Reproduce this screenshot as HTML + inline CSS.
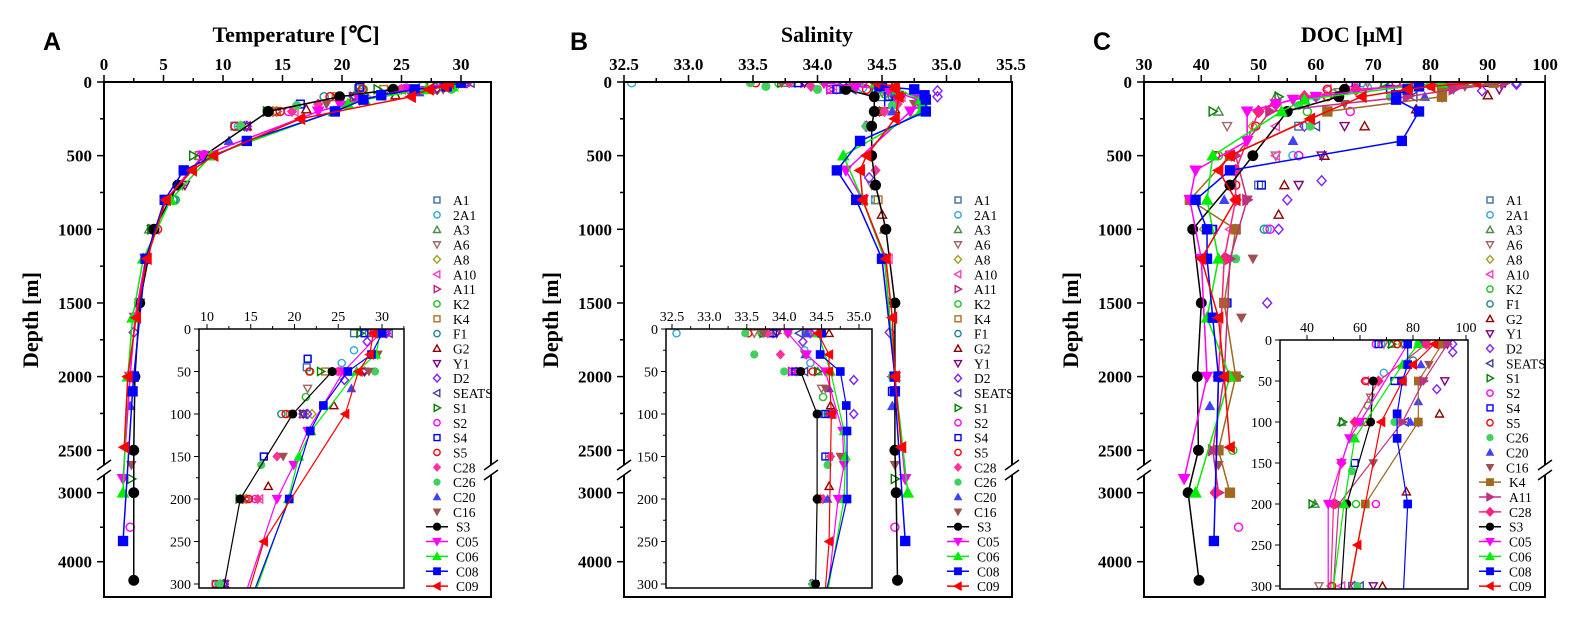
<!DOCTYPE html>
<html><head><meta charset="utf-8">
<style>
html,body{margin:0;padding:0;background:#fff;width:1586px;height:623px;overflow:hidden;}
svg{display:block;font-family:"Liberation Serif",serif;}
.tk{font-weight:bold;font-size:17px;}
.itk{font-size:14px;}
.lg{font-size:13.5px;}
.ttl{font-weight:bold;font-size:22px;}
.pl{font-family:"Liberation Sans",sans-serif;font-weight:bold;font-size:25px;}
</style></head>
<body>
<svg id="fig" width="1586" height="623" viewBox="0 0 1586 623" xmlns="http://www.w3.org/2000/svg"></svg>
<script>
// ---------- DATA ----------
const legendAB = ["A1","2A1","A3","A6","A8","A10","A11","K2","K4","F1","G2","Y1","D2","SEATS","S1","S2","S4","S5","C28","C26","C20","C16","S3","C05","C06","C08","C09"];
const legendC = ["A1","2A1","A3","A6","A8","A10","K2","F1","G2","Y1","D2","SEATS","S1","S2","S4","S5","C26","C20","C16","K4","A11","C28","S3","C05","C06","C08","C09"];
const mainTicksY = [0,500,1000,1500,2000,2500,3000,4000];
const insetTicksY = [0,50,100,150,200,250,300];
const tempTicks = [0,5,10,15,20,25,30];
const tempInsetTicks = [10,15,20,25,30];
const salTicks = [32.5,33.0,33.5,34.0,34.5,35.0,35.5];
const salInsetTicks = [32.5,33.0,33.5,34.0,34.5,35.0];
const docTicks = [30,40,50,60,70,80,90,100];
const docInsetTicks = [40,60,80,100];

// Temperature profiles [depth, value]
const tempLines = {
 S3:[[50,24.3],[100,19.8],[200,13.8],[500,8.4],[700,6.2],[1000,4.2],[1500,3.0],[2000,2.6],[2500,2.5],[3000,2.5],[4270,2.5]],
 C05:[[5,29.8],[50,25.6],[120,21.5],[160,19.9],[200,18.0],[500,8.3],[800,5.2],[1200,3.5],[1600,2.6],[2000,2.2],[2800,1.6]],
 C06:[[5,29.8],[30,29.3],[50,27.1],[120,21.9],[150,20.5],[200,19.3],[500,9.0],[800,5.6],[1200,3.3],[1600,2.4],[2000,2.0],[3000,1.6]],
 C08:[[5,30.0],[30,28.8],[50,26.1],[90,23.3],[120,21.8],[200,19.4],[400,12.0],[600,6.7],[800,5.1],[1200,3.5],[2000,2.5],[2100,2.4],[3700,1.6]],
 C09:[[5,29.0],[30,28.6],[50,27.3],[100,25.8],[250,16.5],[500,9.2],[600,7.4],[800,5.2],[1200,3.6],[1600,2.7],[2000,2.0],[2480,1.7]]
};
const tempScatter = {
 A1:[[5,26.8],[35,21.5],[45,21.4],[150,16.5],[300,11.0],[500,8.0],[800,5.5]],
 "2A1":[[5,28.0],[25,26.8],[40,25.4],[100,19.0],[300,11.3],[800,5.9]],
 A3:[[5,29.0],[100,21.0],[200,13.8],[300,11.5],[500,8.0],[1000,3.8]],
 A6:[[5,29.5],[30,29.5],[70,21.5],[200,14.0],[300,11.5],[700,6.6],[1000,4.0]],
 A8:[[5,29.5],[50,28.0],[100,22.0],[200,14.5],[500,8.5],[1000,4.2]],
 A10:[[5,30.0],[50,25.0],[100,21.0],[200,16.0],[300,12.0],[1000,4.3]],
 A11:[[5,29.8],[50,28.0],[100,21.0],[200,14.5],[700,6.5],[1500,3.0]],
 K2:[[5,29.5],[50,21.8],[80,21.3],[300,11.5],[800,6.0],[1200,3.5],[2500,2.3]],
 K4:[[5,28.0],[50,23.5],[100,19.5],[200,14.5],[500,8.0],[1000,4.0]],
 F1:[[5,28.5],[100,18.5],[300,11.0],[800,5.8],[1000,4.0]],
 G2:[[5,30.0],[90,24.5],[185,17.0],[300,12.0],[1000,4.2]],
 Y1:[[5,30.5],[50,28.0],[100,21.0],[300,12.0],[700,6.8],[1500,3.0],[2000,2.5]],
 D2:[[5,30.5],[15,28.3],[60,25.7],[100,21.5],[300,12.0],[1700,2.5]],
 SEATS:[[5,30.8],[100,21.0],[300,11.5],[800,5.5],[2000,2.5]],
 S1:[[5,27.5],[50,23.0],[200,13.7],[500,7.5],[1000,4.0],[2800,2.3]],
 S2:[[5,30.5],[50,25.0],[200,15.5],[3500,2.2]],
 S4:[[5,28.0],[35,21.5],[150,16.5],[800,5.2],[2100,2.3]],
 S5:[[5,29.0],[50,21.7],[100,19.0],[200,14.8],[300,11.0],[1000,4.5],[2000,2.4]],
 C28:[[5,29.0],[50,25.0],[150,18.0],[200,15.8],[1600,2.6],[2000,2.6]],
 C26:[[5,29.5],[50,29.2],[160,16.2],[300,11.5],[2000,2.3]],
 C20:[[5,29.5],[70,26.5],[400,10.5],[1600,2.5],[2200,2.2]],
 C16:[[5,30.0],[30,29.5],[50,28.5],[150,18.7],[2600,2.3]]
};
// Salinity
const salLines = {
 S3:[[50,34.22],[100,34.44],[200,34.44],[300,34.42],[500,34.42],[700,34.45],[1000,34.53],[1500,34.6],[2000,34.6],[2500,34.6],[3000,34.61],[4270,34.62]],
 C05:[[5,34.05],[30,34.3],[50,34.55],[120,34.78],[160,34.8],[200,34.72],[600,34.22],[800,34.35],[1200,34.52],[2000,34.6],[2800,34.68]],
 C06:[[5,34.45],[50,34.62],[120,34.8],[150,34.82],[200,34.8],[500,34.2],[800,34.35],[1200,34.52],[2000,34.6],[3000,34.7]],
 C08:[[5,34.5],[30,34.48],[50,34.75],[90,34.83],[120,34.84],[200,34.84],[400,34.33],[600,34.15],[800,34.3],[1200,34.5],[2000,34.6],[2100,34.6],[3700,34.68]],
 C09:[[5,34.45],[30,34.6],[50,34.6],[100,34.63],[250,34.6],[500,34.38],[600,34.33],[800,34.35],[1200,34.53],[1600,34.58],[2000,34.6],[2480,34.65]]
};
const salScatter = {
 A1:[[5,34.3],[50,34.2],[100,34.5],[150,34.6],[300,34.4],[800,34.45]],
 "2A1":[[5,32.56],[25,34.27],[40,34.35],[100,34.6],[800,34.45]],
 A3:[[5,33.75],[50,34.45],[100,34.6],[200,34.48],[1000,34.52]],
 A6:[[5,33.6],[70,34.5],[100,34.65],[200,34.48],[700,34.42]],
 A8:[[5,34.05],[100,34.62],[200,34.45],[500,34.42]],
 A10:[[5,33.8],[50,34.12],[100,34.65],[1200,34.55]],
 A11:[[5,33.9],[50,34.1],[300,34.4],[1500,34.58]],
 K2:[[5,33.7],[80,34.52],[100,34.6],[300,34.42],[1000,34.52]],
 K4:[[5,34.32],[100,34.62],[800,34.47]],
 F1:[[5,33.8],[100,34.58],[300,34.42]],
 G2:[[5,34.6],[90,34.62],[185,34.6],[900,34.5]],
 Y1:[[5,33.9],[100,34.65],[300,34.4]],
 D2:[[5,34.35],[15,34.25],[60,34.93],[100,34.93],[300,34.38],[650,34.4],[1700,34.56]],
 SEATS:[[5,34.2],[50,34.27],[100,34.6],[2000,34.58]],
 S1:[[5,33.72],[50,34.45],[200,34.47],[2800,34.6]],
 S2:[[5,34.35],[50,34.1],[100,34.62],[3500,34.6]],
 S4:[[5,33.85],[50,34.15],[100,34.55],[150,34.55],[2100,34.58]],
 S5:[[5,33.52],[50,34.38],[200,34.48],[1000,34.52]],
 C28:[[5,33.78],[30,33.95],[150,34.62],[200,34.52],[600,34.45]],
 C26:[[5,33.48],[30,33.6],[50,34.0],[160,34.58],[300,34.38],[2000,34.58]],
 C20:[[5,34.3],[30,34.28],[70,34.6],[200,34.58],[2200,34.58]],
 C16:[[5,33.72],[30,34.28],[70,34.55],[150,34.75],[2600,34.6]]
};
// DOC
const docLines = {
 K4:[[5,91],[50,82],[100,82],[200,62],[500,45],[800,38],[1000,46],[1500,44],[2000,46],[2500,43],[3000,45]],
 A11:[[5,93],[50,84],[100,76],[200,52],[500,46],[800,48],[1200,45],[2000,44],[2500,42],[3000,43]],
 C28:[[5,85],[50,67],[100,58],[150,53],[200,50],[600,46],[800,46],[1200,44],[2000,43],[3000,42.5]],
 S3:[[50,65],[100,64],[200,55],[500,49],[700,45],[1000,38.5],[1500,40],[2000,39.3],[2500,39.5],[3000,37.7],[4270,39.6]],
 C05:[[5,78],[100,60],[120,56],[150,53],[200,48],[400,48],[600,39],[800,38],[1200,40],[2000,41],[2800,37]],
 C06:[[5,82],[30,76],[120,58],[200,54],[500,42],[800,41],[1200,43],[1600,41],[2000,45],[3000,39]],
 C08:[[5,78],[30,78],[50,76],[90,74],[120,74],[200,78],[400,75],[600,45],[800,39],[1000,41],[1200,41],[1600,42],[2000,43],[3700,42.2]],
 C09:[[5,88],[30,80],[50,76],[100,68],[250,59],[500,45],[600,43],[800,46],[1200,40],[1600,43],[2000,44],[2480,45]]
};
const docScatter = {
 A1:[[5,78],[50,73],[300,57],[700,50],[1000,41.8],[1500,44.3]],
 "2A1":[[5,68],[40,69],[100,60],[500,56],[1000,51.5],[2000,43]],
 A3:[[5,72],[100,53],[200,43],[1000,46],[2000,46]],
 A6:[[5,69],[70,64],[300,44.5],[500,53],[800,48],[1500,44]],
 A8:[[5,76],[50,76],[300,49],[1000,40.5],[2000,45]],
 A10:[[5,85],[50,62],[300,53],[500,53],[1000,45]],
 K2:[[5,74],[80,63],[200,58.5],[500,43],[2500,45.5]],
 F1:[[5,77],[25,80],[100,62],[500,57],[1000,51]],
 G2:[[5,90],[90,90],[185,77.5],[300,68.5],[500,61.5],[700,54.5],[900,53.5]],
 Y1:[[5,93],[50,92],[300,65],[500,61],[700,57]],
 D2:[[5,95],[15,95],[60,89],[100,82],[300,58],[670,61],[800,55],[1000,53.5],[1500,51.5]],
 SEATS:[[5,84],[100,77],[300,60],[1000,46]],
 S1:[[5,72],[100,53.5],[200,42],[2000,46.5]],
 S2:[[5,66],[200,66],[500,57],[1000,52],[3500,46.5]],
 S4:[[5,67],[50,73],[150,58],[700,50.5],[1000,42],[1500,44.5]],
 S5:[[5,74],[50,62],[100,62],[200,50],[300,49.5],[500,42.5],[700,46],[1000,46]],
 C26:[[5,82],[100,73],[160,57],[300,59],[1200,46]],
 C20:[[5,83],[30,83],[75,82],[100,79],[400,56],[800,44],[2200,41.5]],
 C16:[[5,85],[30,86],[50,84],[150,65],[800,48],[1200,49],[1600,47],[2600,43]]
};

// ---------- STYLES ----------
const sty = {
 A1:["square","#3a6ea5",0],"2A1":["circle","#30a8d8",0],A3:["up","#4a8a4a",0],A6:["down","#a06868",0],
 A8:["diamond","#a0a020",0],A10:["left","#ff40c0",0],A11:["right","#c02080",0],K2:["circle","#20c020",0],
 K4:["square","#b07020",0],F1:["circle","#208888",0],G2:["up","#900000",0],Y1:["down","#800080",0],
 D2:["diamond","#8020ff",0],SEATS:["left","#4040a0",0],S1:["right","#008000",0],S2:["circle","#ff00ff",0],
 S4:["square","#0000ff",0],S5:["circle","#ff0000",0],C28:["diamond","#ff3399",1],C26:["circle","#40d060",1],
 C20:["up","#4040ff",1],C16:["down","#a05050",1],S3:["circle","#000000",1],C05:["down","#ff00ff",1],
 C06:["up","#00ee00",1],C08:["square","#0000ff",1],C09:["left","#ff0000",1]
};
const styC = {K4:["square","#a06820",1],A11:["right","#c03080",1],C28:["diamond","#ff2080",1]};

// ---------- HELPERS ----------
const NS="http://www.w3.org/2000/svg";
const svg=document.getElementById('fig');
function el(tag,attrs,parent){const e=document.createElementNS(NS,tag);for(const k in attrs)e.setAttribute(k,attrs[k]);(parent||svg).appendChild(e);return e;}
function txt(s,x,y,cls,anchor,parent){const t=el('text',{x:x,y:y,'class':cls,'text-anchor':anchor||'middle'},parent);t.textContent=s;return t;}
function marker(g,shape,x,y,s,c,filled){
  const h=s/2;let e;
  const a={fill:filled?c:'#fff','fill-opacity':filled?1:0,stroke:c,'stroke-width':filled?1:1.4};
  if(shape==='circle'){e=el('circle',Object.assign({cx:x,cy:y,r:h*0.9},a),g);}
  else if(shape==='square'){e=el('rect',Object.assign({x:x-h*0.85,y:y-h*0.85,width:s*0.85,height:s*0.85},a),g);}
  else{let p;
    if(shape==='up')p=[[x,y-h],[x+h,y+h*0.8],[x-h,y+h*0.8]];
    else if(shape==='down')p=[[x,y+h],[x+h,y-h*0.8],[x-h,y-h*0.8]];
    else if(shape==='left')p=[[x-h,y],[x+h*0.8,y-h],[x+h*0.8,y+h]];
    else if(shape==='right')p=[[x+h,y],[x-h*0.8,y-h],[x-h*0.8,y+h]];
    else p=[[x,y-h*1.1],[x+h,y],[x,y+h*1.1],[x-h,y]];
    e=el('polygon',Object.assign({points:p.map(q=>q.join(',')).join(' ')},a),g);}
  return e;
}
function yMain(d){return d<=2650?82+d*0.1473:472+(d-2700)*0.069;}

function drawPanel(P){
  const g=el('g',{});
  
  
  const xs=v=>P.x0+(v-P.v0)*P.k;
  const pl=txt(P.letter,P.letterX,50,'pl','start',g);
  
  
  const tt=txt(P.title,P.titleX,42,'ttl','middle',g);
  
  
  const yl=txt('Depth [m]',0,0,'ttl','middle',g);
  yl.setAttribute('transform','translate('+(P.L-66)+',320) rotate(-90)');
  
  
  const cid='clip'+P.id;
  const cp=el('clipPath',{id:cid},g);el('rect',{x:P.L,y:82,width:P.R-P.L,height:515},cp);
  const plot=el('g',{'clip-path':'url(#'+cid+')'},g);
  
  
  for(const name in P.scatter){const st=sty[name];
    for(const [d,v] of P.scatter[name]){const m=marker(plot,st[0],xs(v),yMain(d),9,st[1],st[2]);
      
      }}
  for(const name in P.lines){const st=(P.styC&&P.styC[name])||sty[name];
    const pts=P.lines[name].map(([d,v])=>xs(v)+','+yMain(d)).join(' ');
    const pl2=el('polyline',{points:pts,fill:'none',stroke:st[1],'stroke-width':1.5},plot);
    
    
    for(const [d,v] of P.lines[name]){const m=marker(plot,st[0],xs(v),yMain(d),11,st[1],1);
      
      }}
  const fr=el('rect',{x:P.L,y:82,width:P.R-P.L,height:515,fill:'none',stroke:'#000','stroke-width':2},g);
  
  
  for(let i=0;i<P.ticks.length;i++){const v=P.ticks[i],x=xs(v);
    el('line',{x1:x,y1:82,x2:x,y2:75,stroke:'#000','stroke-width':1.5},g);
    const t=txt(P.fmt(v),x,70,'tk','middle',g);
    
    
    if(i<P.ticks.length-1){const xm=xs(v+P.minor);el('line',{x1:xm,y1:82,x2:xm,y2:78,stroke:'#000','stroke-width':1.5},g);}}
  for(const d of mainTicksY){const y=yMain(d);
    el('line',{x1:P.L,y1:y,x2:P.L-7,y2:y,stroke:'#000','stroke-width':1.5},g);
    const t=txt(String(d),P.L-12,y+6,'tk','end',g);
    
    }
  for(const d of [250,750,1250,1750,2250,3500]){const y=yMain(d);el('line',{x1:P.L,y1:y,x2:P.L-4,y2:y,stroke:'#000','stroke-width':1.5},g);}
  for(const x of [P.L,P.R]){
    el('rect',{x:x-3,y:465,width:6,height:10,fill:'#fff'},g);
    const b1=el('line',{x1:x-7,y1:470,x2:x+7,y2:460,stroke:'#000','stroke-width':1.5},g);
    el('line',{x1:x-7,y1:480,x2:x+7,y2:470,stroke:'#000','stroke-width':1.5},g);
    
    }
  const I=P.inset;const ix=v=>I.x0+(v-I.v0)*I.k;const iy=d=>I.T+d*I.ky;
  const ig=el('g',{},g);
  
  
  el('rect',{x:I.L,y:I.T,width:I.R-I.L,height:I.B-I.T,fill:'#fff'},ig);
  const icid='iclip'+P.id;
  const icp=el('clipPath',{id:icid},ig);el('rect',{x:I.L,y:I.T,width:I.R-I.L,height:I.B-I.T},icp);
  const ip=el('g',{'clip-path':'url(#'+icid+')'},ig);
  for(const name in P.scatter){const st=sty[name];
    for(const [d,v] of P.scatter[name]){if(d>320)continue;const m=marker(ip,st[0],ix(v),iy(d),8,st[1],st[2]);
      
      }}
  for(const name in P.lines){const st=(P.styC&&P.styC[name])||sty[name];
    const pts=P.lines[name].filter(p=>p[0]<=1000).map(([d,v])=>ix(v)+','+iy(d)).join(' ');
    const l=el('polyline',{points:pts,fill:'none',stroke:st[1],'stroke-width':1.2},ip);
    
    
    for(const [d,v] of P.lines[name]){if(d>320)continue;const m=marker(ip,st[0],ix(v),iy(d),9,st[1],1);
      
      }}
  el('rect',{x:I.L,y:I.T,width:I.R-I.L,height:I.B-I.T,fill:'none',stroke:'#000','stroke-width':1.5},ig);
  for(let i=0;i<I.ticks.length;i++){const v=I.ticks[i],x=ix(v);
    el('line',{x1:x,y1:I.T,x2:x,y2:I.T-5,stroke:'#000','stroke-width':1},ig);
    const t=txt(I.fmt(v),x,I.T-8,'itk','middle',ig);
    
    
    const xm=ix(v+I.minor);if(xm<I.R)el('line',{x1:xm,y1:I.T,x2:xm,y2:I.T-3,stroke:'#000','stroke-width':1},ig);}
  for(const d of insetTicksY){const y=iy(d);
    el('line',{x1:I.L,y1:y,x2:I.L-5,y2:y,stroke:'#000','stroke-width':1},ig);
    const t=txt(String(d),I.L-8,y+5,'itk','end',ig);
    
    
    if(d<300){const ym=iy(d+25);el('line',{x1:I.L,y1:ym,x2:I.L-3,y2:ym,stroke:'#000','stroke-width':1},ig);}}
  const lg=el('g',{},g);
  
  
  P.legend.forEach((name,i)=>{const y=200+i*14.85;const st=(P.styC&&P.styC[name])||sty[name];
    const isLine=name in P.lines;
    const e=el('g',{},lg);
    
    
    if(isLine){el('line',{x1:P.legX-11,y1:y,x2:P.legX+11,y2:y,stroke:st[1],'stroke-width':1.5},e);
      marker(e,st[0],P.legX,y,8,st[1],1);txt(name,P.legX+19,y+5,'lg','start',e);}
    else{marker(e,st[0],P.legX,y,7,st[1],st[2]);txt(name,P.legX+16,y+5,'lg','start',e);}
  });
}

drawPanel({id:'temperature',letter:'A',letterX:43,title:'Temperature [\u2103]',titleX:296,L:104,R:491,x0:104,v0:0,k:11.9,
  ticks:tempTicks,minor:2.5,fmt:v=>String(v),lines:tempLines,scatter:tempScatter,legend:legendAB,legX:437,
  inset:{L:199,R:404,T:329,B:588,x0:207,v0:10,k:8.75,ky:0.85,ticks:tempInsetTicks,minor:2.5,fmt:v=>String(v)}});
drawPanel({id:'salinity',letter:'B',letterX:570,title:'Salinity',titleX:817,L:624,R:1012,x0:624,v0:32.5,k:129,
  ticks:salTicks,minor:0.25,fmt:v=>v.toFixed(1),lines:salLines,scatter:salScatter,legend:legendAB,legX:958,
  inset:{L:666,R:872,T:329,B:588,x0:672,v0:32.5,k:74.8,ky:0.85,ticks:salInsetTicks,minor:0.25,fmt:v=>v.toFixed(1)}});
drawPanel({id:'doc',letter:'C',letterX:1093,title:'DOC [\u03bcM]',titleX:1352,L:1144,R:1545,x0:1144,v0:30,k:5.73,
  ticks:docTicks,minor:5,fmt:v=>String(v),lines:docLines,scatter:docScatter,legend:legendC,legX:1490,styC:styC,
  inset:{L:1280,R:1468,T:340,B:589,x0:1307,v0:40,k:2.65,ky:0.82,ticks:docInsetTicks,minor:10,fmt:v=>String(v)}});
</script>
</body></html>
